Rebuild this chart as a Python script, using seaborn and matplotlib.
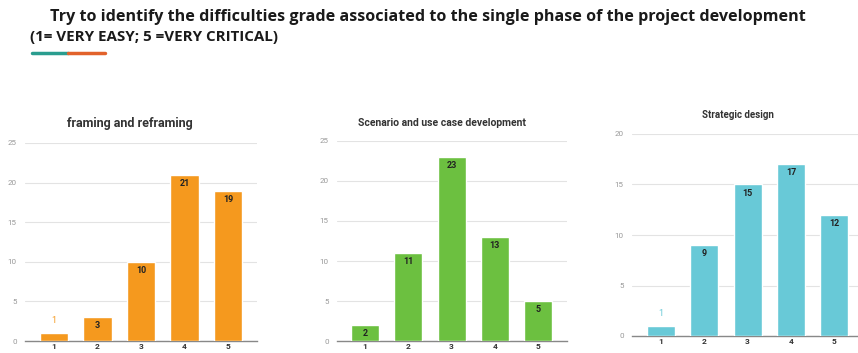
import numpy as np
import pandas as pd
import seaborn as sns
import matplotlib.pyplot as plt

# answer grades 1..5
grades = ["1", "2", "3", "4", "5"]

framing_counts = [1, 3, 10, 21, 19]
scenario_counts = [2, 11, 23, 13, 5]
strategic_counts = [1, 9, 15, 17, 12]

panel_titles = ["framing and reframing", "Scenario and use case development", "Strategic design"]
panel_colors = ["#F5991E", "#6CC040", "#68C9D7"]
panel_ymax = [25, 25, 20]

header_line1 = "Try to identify the difficulties grade associated to the single phase of the project development"
header_line2 = "(1= VERY EASY; 5 =VERY CRITICAL)"

W, H = 858, 353

sns.set_style("white")
plt.rcParams["font.family"] = ["Roboto", "DejaVu Sans"]

fig = plt.figure(figsize=(W / 100, H / 100), dpi=100)


def px_axes(left, right, top, bottom):
    """axes from pixel box (origin top-left)"""
    return fig.add_axes([left / W, 1 - bottom / H, (right - left) / W, (bottom - top) / H])


# pixel boxes: left, right, top-gridline, zero-line, and first bar centre / spacing
boxes = [
    (25, 257, 143, 341, 54, 43.5),
    (337, 567, 141, 341, 365, 43.3),
    (632, 858, 134, 336, 661, 43.3),
]
title_pos = [(130, 123), (442, 123), (738, 115)]
title_size = [9, 7.5, 7]

all_counts = [framing_counts, scenario_counts, strategic_counts]

for i, counts in enumerate(all_counts):
    left, right, top, bottom, c0, step = boxes[i]
    ax = px_axes(left, right, top, bottom)
    df = pd.DataFrame({"grade": grades, "count": counts})
    sns.barplot(data=df, x="grade", y="count", color=panel_colors[i],
                width=0.65, saturation=1, ax=ax, zorder=3)

    ax.set_xlim((left - c0) / step, (right - c0) / step)
    ax.set_ylim(0, panel_ymax[i])
    ax.set_yticks(np.arange(0, panel_ymax[i] + 1, 5))
    ax.yaxis.grid(True, color="#e3e3e3", linewidth=0.8, zorder=0)
    ax.set_axisbelow(True)
    for s in ["top", "right", "left"]:
        ax.spines[s].set_visible(False)
    ax.spines["bottom"].set_color("#888888")
    ax.spines["bottom"].set_linewidth(1.0)
    ax.tick_params(axis="y", length=0, labelsize=5.8, labelcolor="#999999", pad=6)
    ax.tick_params(axis="x", length=0, labelsize=6.0, labelcolor="#333333", pad=1.5)
    for t in ax.get_xticklabels():
        t.set_fontweight("bold")
    ax.set_xlabel("")
    ax.set_ylabel("")

    for j, v in enumerate(counts):
        if v <= 1:
            ax.annotate(str(v), (j, v), xytext=(0, 6), textcoords="offset points",
                        ha="center", va="bottom", fontsize=6.5, color=panel_colors[i])
        else:
            ax.annotate(str(v), (j, v), xytext=(0, -3), textcoords="offset points",
                        ha="center", va="top", fontsize=6.5, fontweight="bold",
                        color="#222222")

    tx, ty = title_pos[i]
    fig.text(tx / W, 1 - ty / H, panel_titles[i], ha="center", va="center",
             fontsize=title_size[i], fontweight="bold", color="#333333")

# header
fig.text(50 / W, 1 - 17 / H, header_line1, ha="left", va="center",
         fontsize=11.6, fontweight="bold", color="#1a1a1a",
         family=["Open Sans", "DejaVu Sans"])
fig.text(30 / W, 1 - 37 / H, header_line2, ha="left", va="center",
         fontsize=10.9, fontweight="bold", color="#1a1a1a",
         family=["Open Sans", "DejaVu Sans"])
fig.add_artist(plt.Line2D([32 / W, 68 / W], [1 - 53 / H] * 2, color="#2A9D8F", linewidth=2.5))
fig.add_artist(plt.Line2D([68 / W, 105 / W], [1 - 53 / H] * 2, color="#E2622B", linewidth=2.5))

fig.savefig("out.png", dpi=100)
